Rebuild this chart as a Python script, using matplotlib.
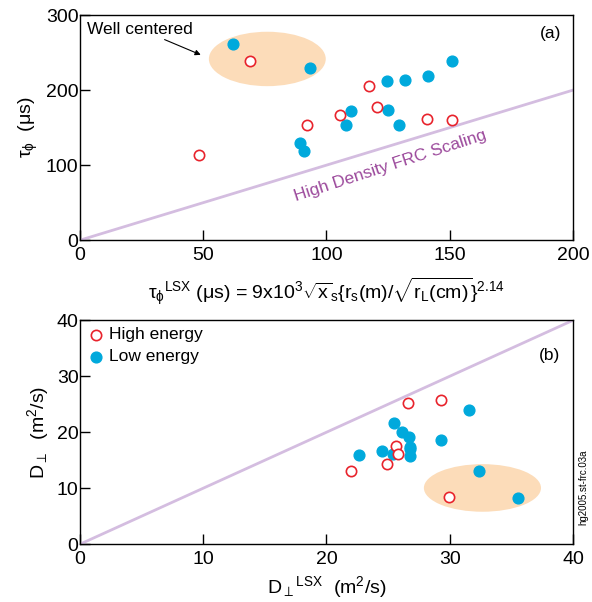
import numpy as np
import matplotlib
matplotlib.use("Agg")
import matplotlib.pyplot as plt
from matplotlib.patches import Ellipse

plt.rcParams["font.family"] = ["Liberation Sans", "DejaVu Sans"]
plt.rcParams["mathtext.fontset"] = "custom"
plt.rcParams["mathtext.rm"] = "Liberation Sans"
plt.rcParams["mathtext.it"] = "Liberation Sans"

# (a) confinement time data
tau_lsx_high = [69, 48.4, 92, 105.5, 117.2, 120.4, 140.6, 151]
tau_phi_high = [238.7, 113, 153, 166.7, 206, 177, 161, 160]
tau_lsx_low = [62.2, 93.3, 151, 124.7, 131.8, 141, 109.8, 125, 107.9, 129.5, 89.2, 90.9]
tau_phi_low = [262, 229, 238.7, 212.4, 214, 218.7, 172.4, 174, 153, 153, 130, 119]

# (b) diffusion data
d_lsx_high = [26.6, 29.25, 25.6, 25.8, 24.9, 22.0, 29.9]
d_high = [25.3, 25.8, 17.6, 16.1, 14.3, 13.1, 8.5]
d_lsx_low = [25.5, 26.1, 26.7, 26.8, 26.8, 26.8, 24.5, 25.4, 22.6, 29.3, 31.6, 32.4, 35.5]
d_low = [21.7, 20.0, 19.2, 17.4, 17.0, 15.8, 16.7, 16.1, 15.9, 18.6, 23.9, 13.1, 8.2]

blue = "#00a9dc"
red = "#e8232c"
line_c = "#d4bde0"
ell_c = "#fcdcb9"

fig = plt.figure(figsize=(5.92, 6.02), dpi=100)
ax1 = fig.add_axes([0.135, 0.601, 0.833, 0.374])
ax2 = fig.add_axes([0.135, 0.096, 0.833, 0.372])

# top panel
ax1.add_patch(Ellipse((76, 241.5), 47.4, 72.5, color=ell_c, lw=0, zorder=1))
ax1.plot([0, 200], [0, 200], color=line_c, lw=2, zorder=2)
ax1.scatter(tau_lsx_low, tau_phi_low, s=60, color=blue, zorder=3)
ax1.scatter(tau_lsx_high, tau_phi_high, s=55, facecolor="white", edgecolor=red, lw=1.2, zorder=4)
ax1.text(126, 99, "High Density FRC Scaling", rotation=18, color="#9c4a9c",
         fontsize=12.5, ha="center", va="center")
ax1.annotate("Well centered", xy=(49, 247), xytext=(3, 281), fontsize=12.5, va="center",
             arrowprops=dict(arrowstyle="-|>", color="black", lw=0.8, shrinkA=0, shrinkB=0,
                             mutation_scale=8))
ax1.text(191, 276, "(a)", fontsize=12.5, ha="center", va="center")
ax1.set_xlim(0, 200)
ax1.set_ylim(0, 300)
ax1.set_xticks([0, 50, 100, 150, 200])
ax1.set_yticks([0, 100, 200, 300])
ax1.set_ylabel(r"$\tau_\phi$  ($\mu$s)", fontsize=14)
ax1.set_xlabel(r"$\tau_\phi$$^{\rm LSX}$ ($\mu$s) = 9x10$^3\sqrt{\rm x}_{\rm s}\{{\rm r_s(m)}/\sqrt{\rm r_L(cm)}\}^{2.14}$",
               fontsize=14, labelpad=8)

# bottom panel
ax2.add_patch(Ellipse((32.65, 10.05), 9.5, 8.5, color=ell_c, lw=0, zorder=1))
ax2.plot([0, 40], [0, 40], color=line_c, lw=2, zorder=2)
ax2.scatter(d_lsx_high, d_high, s=55, facecolor="white", edgecolor=red, lw=1.2, zorder=4,
            label="High energy")
ax2.scatter(d_lsx_low, d_low, s=60, color=blue, zorder=3, label="Low energy")
ax2.legend(loc="upper left", frameon=False, fontsize=12.5, handletextpad=0.3,
           borderaxespad=0.2, borderpad=0.2, labelspacing=0.4, handlelength=1)
ax2.text(38.1, 33.7, "(b)", fontsize=12.5, ha="center", va="center")
ax2.set_xlim(0, 40)
ax2.set_ylim(0, 40)
ax2.set_xticks([0, 10, 20, 30, 40])
ax2.set_yticks([0, 10, 20, 30, 40])
ax2.set_ylabel(r"D$_\perp$  (m$^2$/s)", fontsize=14)
ax2.set_xlabel(r"D$_\perp$$^{\rm LSX}$  (m$^2$/s)", fontsize=14, labelpad=4)

for ax in (ax1, ax2):
    ax.tick_params(labelsize=14, direction="in", length=7, width=1)
    ax.tick_params(axis="y", pad=1)
    ax.tick_params(axis="x", pad=5)
    for sp in ax.spines.values():
        sp.set_linewidth(1)

fig.text(0.985, 0.19, "hg2005.st-frc.03a", rotation=90, fontsize=7, ha="center", va="center")

fig.savefig("out.png", dpi=100)
